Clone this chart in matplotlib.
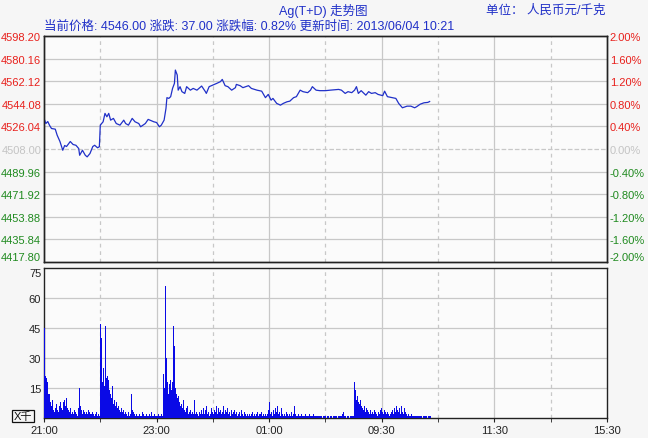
import numpy as np
import matplotlib
matplotlib.use('Agg')
from matplotlib import pyplot as plt

plt.rcParams['font.family'] = ['Liberation Sans', 'Noto Sans CJK SC']

# trading minutes since 21:00 (night session 21:00-02:30, then 09:00-11:30, 13:30-15:30)
price_min = [0, 2, 4, 6, 8, 12, 14, 17, 20, 22,
             24, 28, 31, 34, 37, 38, 41, 44, 46, 49,
             52, 54, 57, 59, 60, 63, 65, 67, 69, 71,
             74, 77, 81, 85, 87, 90, 94, 97, 101, 103,
             108, 111, 117, 120, 123, 125, 128, 130, 131, 133,
             135, 137, 139, 140, 142, 143, 145, 147, 150, 152,
             156, 159, 163, 168, 172, 173, 176, 180, 184, 188,
             190, 193, 196, 200, 204, 205, 209, 212, 218, 221,
             227, 232, 236, 239, 242, 244, 248, 252, 255, 259,
             262, 266, 269, 273, 276, 281, 284, 286, 290, 294,
             300, 305, 314, 317, 321, 324, 328, 331, 333, 335,
             338, 340, 343, 346, 349, 353, 356, 361, 363, 366,
             371, 375, 378, 382, 387, 391, 395, 397, 401, 405,
             409, 411]
price = [4532.5, 4528.4, 4530.0, 4526.8, 4524.4, 4523.9, 4519.1, 4514.0, 4507.0, 4510.8,
         4510.0, 4514.0, 4511.6, 4511.0, 4508.4, 4503.0, 4507.0, 4503.0, 4501.7, 4504.4,
         4510.0, 4511.0, 4509.0, 4509.8, 4527.1, 4529.8, 4536.5, 4533.8, 4536.5, 4531.1,
         4532.5, 4528.4, 4527.1, 4531.1, 4528.4, 4527.1, 4532.5, 4529.8, 4528.4, 4525.8,
         4528.4, 4531.7, 4529.8, 4529.2, 4525.8, 4527.1, 4531.1, 4540.5, 4549.1, 4548.5,
         4549.9, 4556.5, 4560.5, 4571.2, 4567.2, 4555.1, 4557.9, 4553.9, 4552.5, 4557.9,
         4555.1, 4556.5, 4555.1, 4558.4, 4553.9, 4552.5, 4557.9, 4559.2, 4560.5, 4561.9,
         4563.7, 4558.7, 4557.9, 4555.1, 4557.1, 4559.7, 4558.7, 4557.1, 4558.7, 4556.5,
         4555.1, 4554.3, 4549.1, 4551.7, 4547.1, 4548.5, 4544.5, 4543.1, 4544.5, 4545.8,
         4546.3, 4549.1, 4549.9, 4555.1, 4553.9, 4553.1, 4555.1, 4557.9, 4555.1, 4554.7,
         4554.7, 4555.1, 4555.7, 4555.1, 4552.5, 4553.9, 4553.1, 4555.1, 4557.9, 4552.5,
         4554.7, 4553.3, 4551.1, 4553.9, 4552.5, 4553.1, 4551.7, 4550.7, 4554.3, 4549.9,
         4549.1, 4548.5, 4544.5, 4541.0, 4542.3, 4542.3, 4541.0, 4541.8, 4543.9, 4545.0,
         4545.3, 4546.0]

# volume per minute (thousands)
vol = [45, 21, 20, 18, 12, 12, 8, 6, 5, 9,
       4, 3, 5, 7, 4, 3, 6, 8, 5, 4,
       8, 9, 6, 10, 7, 5, 4, 3, 5, 2,
       3, 2, 4, 3, 2, 1, 5, 15, 6, 4,
       3, 2, 4, 3, 2, 3, 2, 4, 3, 2,
       2, 3, 2, 1, 2, 3, 2, 1, 2, 1,
       47, 40, 18, 25, 16, 46, 20, 21, 19, 14,
       12, 10, 8, 16, 7, 9, 6, 8, 5, 6,
       4, 3, 5, 3, 4, 2, 3, 2, 1, 2,
       3, 1, 2, 12, 4, 3, 2, 1, 2, 1,
       1, 2, 1, 1, 3, 1, 2, 1, 1, 2,
       1, 1, 2, 1, 3, 1, 1, 2, 1, 1,
       1, 1, 2, 1, 1, 2, 1, 22, 15, 66,
       30, 18, 12, 17, 19, 14, 18, 40, 46, 36,
       15, 12, 10, 11, 8, 6, 7, 5, 9, 4,
       3, 5, 6, 4, 2, 3, 4, 2, 3, 2,
       9, 2, 3, 2, 1, 3, 2, 4, 2, 5,
       3, 2, 4, 6, 2, 3, 1, 2, 5, 3,
       2, 4, 3, 6, 2, 5, 7, 3, 4, 2,
       3, 6, 2, 4, 3, 5, 2, 3, 1, 4,
       2, 3, 8, 4, 2, 3, 1, 2, 3, 1,
       4, 2, 1, 3, 2, 1, 2, 1, 3, 2,
       1, 2, 3, 1, 2, 1, 2, 3, 1, 2,
       2, 3, 1, 2, 1, 3, 2, 1, 2, 4,
       8, 2, 3, 1, 4, 2, 5, 3, 6, 2,
       3, 2, 1, 5, 2, 1, 2, 1, 3, 2,
       1, 2, 1, 3, 1, 2, 6, 3, 2, 1,
       1, 2, 1, 1, 2, 1, 1, 1, 2, 1,
       1, 1, 2, 1, 1, 1, 1, 2, 1, 1,
       1, 1, 1, 1, 1, 1, 0, 1, 1, 1,
       1, 0, 1, 1, 0, 1, 1, 0, 1, 1,
       1, 1, 0, 1, 1, 1, 0, 1, 2, 3,
       1, 1, 0, 1, 1, 0, 1, 1, 1, 1,
       18, 14, 12, 9, 11, 8, 7, 9, 6, 5,
       4, 6, 3, 5, 4, 3, 2, 4, 3, 2,
       3, 2, 4, 3, 2, 1, 3, 2, 4, 5,
       3, 2, 4, 3, 1, 2, 3, 2, 1, 2,
       3, 4, 2, 5, 3, 6, 4, 3, 5, 2,
       4, 6, 3, 2, 5, 3, 2, 1, 2, 1,
       1, 2, 1, 1, 1, 1, 1, 1, 1, 1,
       1, 1, 1, 0, 1, 1, 1, 1, 0, 1,
       1, 1]

base = 4508.00
price_ticks = [4417.80, 4435.84, 4453.88, 4471.92, 4489.96, 4508.00,
               4526.04, 4544.08, 4562.12, 4580.16, 4598.20]
pct_labels = ['-2.00%', '-1.60%', '-1.20%', '-0.80%', '-0.40%', '0.00%',
              '0.40%', '0.80%', '1.20%', '1.60%', '2.00%']
time_major = [0, 120, 240, 360, 480, 600]
time_labels = ['21:00', '23:00', '01:00', '09:30', '11:30', '15:30']
time_minor = [60, 180, 300, 420, 540]
vol_ticks = [15, 30, 45, 60, 75]

RED = '#e8201c'
GREEN = '#1f8a1f'
GRAY = '#c4c4c4'
BLUE = '#2030c8'
GRID = '#c8c8c8'

def tick_color(v):
    if abs(v - base) < 0.01:
        return GRAY
    return RED if v > base else GREEN

fig = plt.figure(figsize=(6.48, 4.39), dpi=100, facecolor='#f6f6f6')
ax = fig.add_axes([0.0679, 0.4016, 0.8688, 0.5134], facecolor='#fbfbfb')
ax2 = fig.add_axes([0.0679, 0.0449, 0.8688, 0.3417], facecolor='#fbfbfb')

# price panel
ax.set_xlim(0, 600)
ax.set_ylim(price_ticks[0], price_ticks[-1])
for v in price_ticks[1:-1]:
    ax.axhline(v, color=GRID, lw=0.9, ls='--' if v == base else '-', zorder=1)
for t in time_major[1:-1]:
    ax.axvline(t, color=GRID, lw=0.9, zorder=1)
for t in time_minor:
    ax.axvline(t, color=GRID, lw=0.9, ls=(0, (3, 3)), zorder=1)
ax.plot(price_min, price, color=BLUE, lw=0.9, zorder=3)

ax.set_xticks([])
ax.set_yticks(price_ticks)
ax.set_yticklabels(['%.2f' % v for v in price_ticks])
ax.tick_params(axis='y', length=0, pad=2, labelsize=8)
for lab, v in zip(ax.get_yticklabels(), price_ticks):
    lab.set_color(tick_color(v))

axr = ax.twinx()
axr.set_ylim(ax.get_ylim())
axr.set_yticks(price_ticks)
axr.set_yticklabels(pct_labels)
axr.tick_params(axis='y', length=0, pad=2, labelsize=8)
for lab, v in zip(axr.get_yticklabels(), price_ticks):
    lab.set_color(tick_color(v))

# keep the bottom price labels clear of the volume panel
ax.get_yticklabels()[0].set_va('bottom')
axr.get_yticklabels()[0].set_va('bottom')

for a in (ax, axr):
    for s in a.spines.values():
        s.set_color('#222222')
        s.set_linewidth(1.0)

# volume panel
ax2.set_xlim(0, 600)
ax2.set_ylim(0, 75)
for v in vol_ticks[:-1]:
    ax2.axhline(v, color=GRID, lw=0.9, zorder=1)
for t in time_major[1:-1]:
    ax2.axvline(t, color=GRID, lw=0.9, zorder=1)
for t in time_minor:
    ax2.axvline(t, color=GRID, lw=0.9, ls=(0, (3, 3)), zorder=1)
ax2.bar(np.arange(len(vol)), vol, width=1.0, align='edge', color='#0a0ae6',
        linewidth=0, zorder=3)

ax2.set_yticks(vol_ticks)
ax2.set_yticklabels([str(v) for v in vol_ticks])
ax2.tick_params(axis='y', length=0, pad=2, labelsize=8, labelcolor='#222222')
ax2.get_yticklabels()[-1].set_va('top')
ax2.set_xticks(time_major)
ax2.set_xticklabels(time_labels)
ax2.set_xticks(time_minor, minor=True)
ax2.tick_params(axis='x', which='both', length=3, pad=2, labelsize=8,
                labelcolor='#222222', color='#222222')
for s in ax2.spines.values():
    s.set_color('#222222')
    s.set_linewidth(1.0)

fig.text(23 / 648, 1 - 417 / 439, 'X千', ha='center', va='center', fontsize=8,
         color='#111111',
         bbox=dict(boxstyle='square,pad=0.12', fc='none', ec='#111111', lw=0.9))

# header
fig.text(323 / 648, 1 - 11 / 439, 'Ag(T+D) 走势图', ha='center', va='center',
         fontsize=9, color=BLUE)
fig.text(605 / 648, 1 - 11 / 439, '单位： 人民币元/千克', ha='right', va='center',
         fontsize=9, color=BLUE)
fig.text(44 / 648, 1 - 26 / 439,
         '当前价格: 4546.00 涨跌: 37.00 涨跌幅: 0.82% 更新时间: 2013/06/04 10:21',
         ha='left', va='center', fontsize=9, color=BLUE)

fig.savefig('out.png', dpi=100, facecolor=fig.get_facecolor())
